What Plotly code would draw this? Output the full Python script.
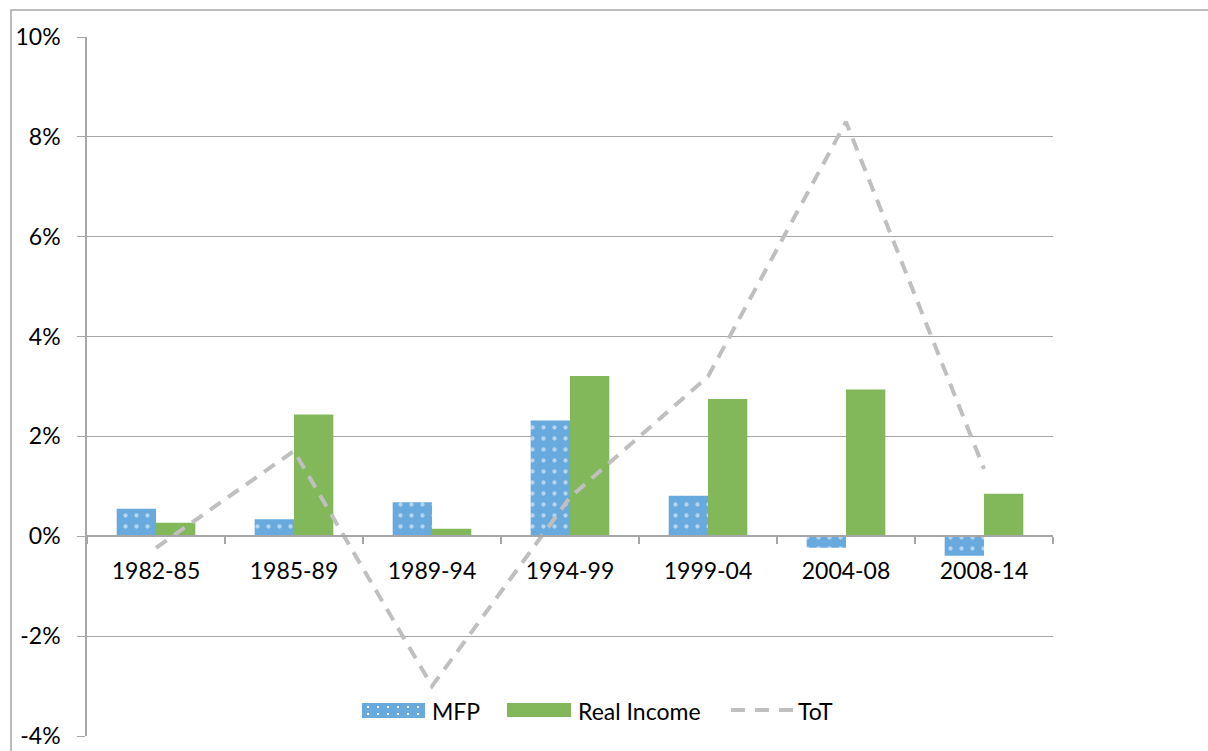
import plotly.graph_objects as go

# Period labels and annual average growth rates (%)
periods = ["1982-85", "1985-89", "1989-94", "1994-99", "1999-04", "2004-08", "2008-14"]
mfp = [0.55, 0.34, 0.68, 2.32, 0.81, -0.23, -0.39]
real_income = [0.27, 2.44, 0.15, 3.21, 2.75, 2.94, 0.85]
tot = [-0.23, 1.71, -3.0, 0.78, 3.2, 8.3, 1.35]

y_ticks = [-4, -2, 0, 2, 4, 6, 8, 10]
y_tick_text = [f"{v}%" for v in y_ticks]

FONT = "Lato, 'Open Sans', sans-serif"
GRID = "#A6A6A6"
BLUE = "#68A9DE"
GREEN = "#82B85A"
LINE_GRAY = "#BFBFBF"

W, H = 1208, 751
ML, MR, MT, MB = 87, 155, 37, 15
PW, PH = W - ML - MR, H - MT - MB


def px(x):
    """Horizontal pixel -> paper fraction."""
    return (x - ML) / PW


def py(y):
    """Vertical pixel (from top) -> paper fraction."""
    return (H - MB - y) / PH


fig = go.Figure()

fig.add_trace(go.Bar(
    name="MFP", x=periods, y=mfp,
    marker=dict(
        color=BLUE,
        line=dict(width=0),
        pattern=dict(shape=".", fgcolor="white", bgcolor=BLUE, size=11, solidity=0.12),
    ),
))
fig.add_trace(go.Bar(
    name="Real Income", x=periods, y=real_income,
    marker=dict(color=GREEN, line=dict(width=0)),
))
fig.add_trace(go.Scatter(
    name="ToT", x=periods, y=tot, mode="lines",
    line=dict(color=LINE_GRAY, width=4, dash="13px,9px"),
))

# Outer chart frame
shapes = [dict(
    type="rect", xref="paper", yref="paper",
    x0=px(11), x1=px(W + 20), y0=py(H + 20), y1=py(10),
    line=dict(color=GRID, width=1.5), fillcolor="rgba(0,0,0,0)", layer="below",
)]

# Legend swatches drawn at the bottom of the plot area
shapes.append(dict(type="rect", xref="paper", yref="paper",
                   x0=px(362), x1=px(425), y0=py(718), y1=py(703),
                   line=dict(width=0), fillcolor=BLUE, layer="above"))
for dx in range(367, 425, 10):
    for dy in (706, 713):
        shapes.append(dict(type="rect", xref="paper", yref="paper",
                           x0=px(dx), x1=px(dx + 2), y0=py(dy + 2), y1=py(dy),
                           line=dict(width=0), fillcolor="white", layer="above"))
shapes.append(dict(type="rect", xref="paper", yref="paper",
                   x0=px(507), x1=px(571), y0=py(717), y1=py(703),
                   line=dict(width=0), fillcolor=GREEN, layer="above"))
shapes.append(dict(type="line", xref="paper", yref="paper",
                   x0=px(731), x1=px(797), y0=py(710), y1=py(710),
                   line=dict(color=LINE_GRAY, width=4, dash="14px,10px"), layer="above"))

legend_labels = [("MFP", 430), ("Real Income", 576), ("ToT", 796)]
annotations = [
    dict(text=t, xref="paper", yref="paper", x=px(x0), y=py(711),
         xanchor="left", yanchor="middle", showarrow=False,
         font=dict(family=FONT, size=23, color="black"))
    for t, x0 in legend_labels
]

ymin, ymax = -4, 10
fig.update_layout(
    width=W, height=H,
    margin=dict(l=ML, r=MR, t=MT, b=MB, autoexpand=False),
    paper_bgcolor="white", plot_bgcolor="white",
    font=dict(family=FONT, size=23, color="black"),
    barmode="group", bargap=0.43, bargroupgap=0,
    showlegend=False,
    xaxis=dict(
        type="category", automargin=False,
        anchor="free", position=(0 - ymin) / (ymax - ymin),
        showline=True, linecolor=GRID, linewidth=1.5,
        ticks="outside", tickson="boundaries", ticklen=7, tickcolor=GRID, tickwidth=1.5,
        showgrid=False, zeroline=False, ticklabelstandoff=14,
        tickfont=dict(family=FONT, size=23, color="black"),
    ),
    yaxis=dict(
        range=[ymin, ymax], tickvals=y_ticks, ticktext=y_tick_text, automargin=False,
        showline=True, linecolor=GRID, linewidth=1.5,
        showgrid=True, gridcolor=GRID, gridwidth=1.2,
        ticks="outside", ticklen=8, tickcolor=GRID, tickwidth=1.2,
        zeroline=False, ticklabelstandoff=12,
        tickfont=dict(family=FONT, size=23, color="black"),
    ),
    shapes=shapes,
    annotations=annotations,
)

fig.write_html("out.html")
